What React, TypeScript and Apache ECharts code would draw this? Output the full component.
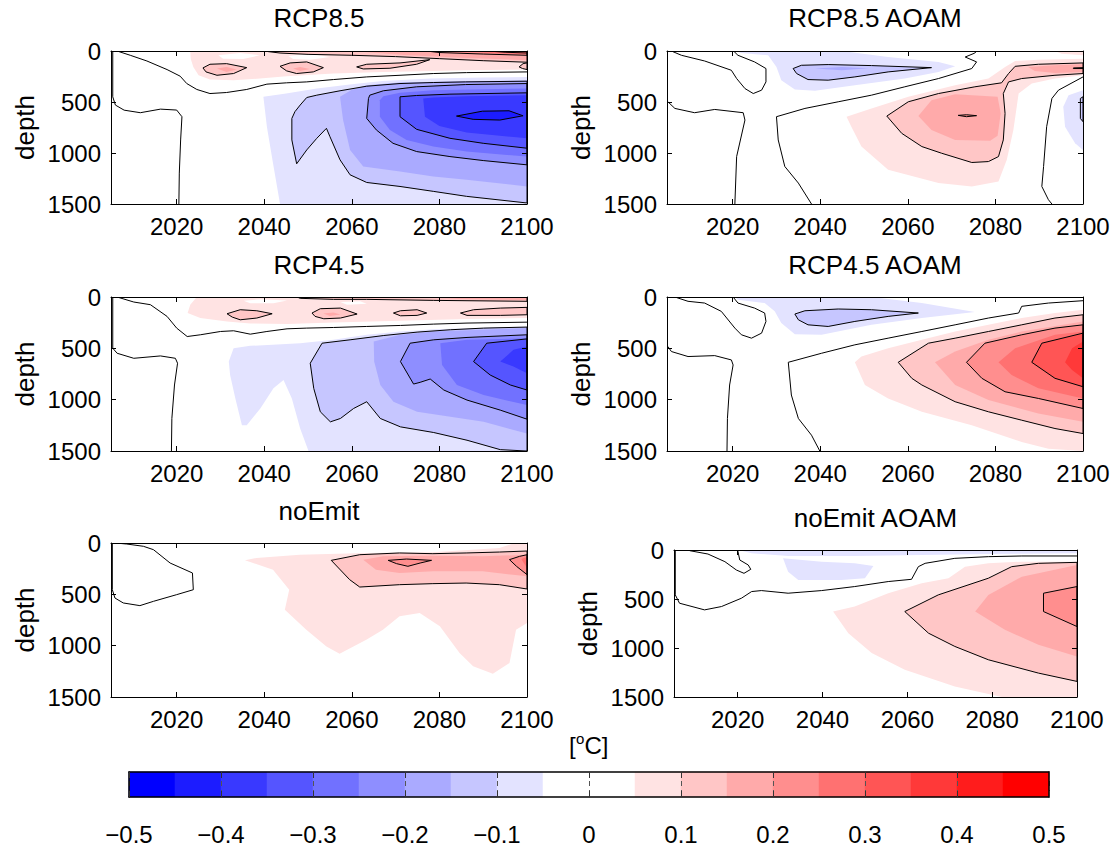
import { useEffect, useRef } from 'react';
import * as echarts from 'echarts';

type Pt = [number, number];
type Region = [number, Pt[]];

const FONT = '"Liberation Sans", Arial, Helvetica, sans-serif';

const yearTicks = [2020, 2040, 2060, 2080, 2100];
const depthTicks = [0, 500, 1000, 1500];
const binEdges = [-0.5, -0.45, -0.4, -0.35, -0.3, -0.25, -0.2, -0.15, -0.1, -0.05, 0, 0.05, 0.1, 0.15, 0.2, 0.25, 0.3, 0.35, 0.4, 0.45, 0.5];
const binColors = ['#0000ff', '#1c1cff', '#3939ff', '#5555ff', '#7171ff', '#8e8eff', '#aaaaff', '#c6c6ff', '#e3e3ff', '#ffffff',
  '#ffffff', '#ffe3e3', '#ffc6c6', '#ffaaaa', '#ff8e8e', '#ff7171', '#ff5555', '#ff3939', '#ff1c1c', '#ff0000'];
const panelTitles = ['RCP8.5', 'RCP8.5 AOAM', 'RCP4.5', 'RCP4.5 AOAM', 'noEmit', 'noEmit AOAM'];

// ---------- RCP8.5 ----------
const rcp85Fills: Region[] = [
  [-0.05, [[2039.8, 449], [2045, 417], [2052, 368], [2060, 326], [2067, 293], [2078, 270], [2090, 260], [2100, 254], [2100, 1500], [2043.6, 1500], [2042, 1100], [2040.6, 742]]],
  [-0.1, [[2046.3, 661], [2047, 595], [2048.2, 530], [2049.7, 456], [2052, 433], [2057.3, 390], [2063.4, 345], [2071, 319], [2078.6, 309], [2086, 303], [2100, 296], [2100, 1490], [2086.2, 1425], [2078.6, 1376], [2071, 1328], [2063.4, 1289], [2059.6, 1214], [2057.3, 1067], [2055, 840], [2054.2, 758], [2052, 856], [2049.7, 970], [2047.4, 1106], [2046.3, 872]]],
  [-0.15, [[2057.3, 449], [2060, 380], [2063.4, 335], [2071, 309], [2086, 296], [2100, 290], [2100, 1328], [2086.2, 1263], [2078.6, 1230], [2071, 1181], [2062.6, 1132], [2059.6, 970], [2058, 677]]],
  [-0.2, [[2063.8, 465], [2064.1, 433], [2067.2, 390], [2074.8, 351], [2086, 329], [2100, 319], [2100, 1116], [2090, 1074], [2082.4, 1035], [2074.8, 986], [2069.4, 905], [2065.6, 774], [2063.4, 661]]],
  [-0.25, [[2066.4, 482], [2067.2, 443], [2071, 410], [2078.6, 384], [2100, 368], [2100, 1035], [2086.2, 986], [2078.6, 937], [2072.5, 872], [2068.7, 774], [2066.4, 644]]],
  [-0.3, [[2071, 449], [2074.8, 436], [2082.4, 423], [2100, 410], [2100, 953], [2090, 905], [2082.4, 856], [2074.8, 768], [2071, 644]]],
  [-0.35, [[2076.3, 465], [2078.6, 456], [2086, 443], [2100, 433], [2100, 856], [2086.2, 800], [2080, 735], [2076.7, 644]]],
  [-0.4, [[2083.9, 638], [2089.8, 590], [2095.9, 586], [2099.1, 635], [2093.8, 677], [2087.7, 670]]],
  [0.05, [[2023.1, 0], [2100, 0], [2100, 182], [2086.2, 189], [2078.6, 195], [2067.2, 205], [2055.8, 221], [2045.1, 247], [2039, 270], [2033, 286], [2027.6, 280], [2025, 238], [2023.8, 156], [2023.2, 75]]],
  [0, [[2029.5, 42], [2034.5, 20], [2039, 42], [2035.2, 78], [2030.6, 75]]],
  [0, [[2045.5, 49], [2050.4, 26], [2055, 59], [2050.4, 85], [2046.6, 78]]],
  [0.1, [[2039.8, 0], [2100, 0], [2100, 110], [2090, 95], [2080, 75], [2070, 55], [2060, 42], [2050, 33], [2043.6, 20]]],
  [0.1, [[2026, 166], [2027.6, 130], [2031.4, 124], [2036, 163], [2033, 221], [2029.2, 238], [2026.7, 205]]],
  [0.1, [[2043.6, 150], [2045.9, 117], [2049.7, 107], [2053.5, 163], [2051.2, 205], [2047.4, 221], [2045.1, 195]]],
  [0.1, [[2061.1, 156], [2063.4, 130], [2071, 117], [2077.8, 85], [2074.8, 130], [2068.7, 169], [2062.6, 176]]],
  [0.1, [[2098.2, 156], [2099.1, 124], [2100, 117], [2100, 182], [2099, 172]]],
  [0.15, [[2029.2, 172], [2031.4, 156], [2033.7, 182], [2031.4, 205]]],
  [0.15, [[2046.6, 172], [2048.2, 156], [2050.4, 176], [2048.2, 195]]],
  [0.15, [[2060, 0], [2100, 0], [2100, 90], [2085, 65], [2072, 40]]],
  [0.2, [[2077, 0], [2100, 0], [2100, 42], [2090, 30], [2080, 15]]],
  [0.25, [[2085, 0], [2100, 0], [2100, 30], [2092, 20]]],
  [0.3, [[2091, 0], [2100, 0], [2100, 20], [2095, 12]]],
];
const rcp85Zero: Pt[][] = [
  [[2006.4, 0], [2009.4, 42], [2013.2, 98], [2017.8, 182], [2020.8, 247], [2022.3, 319], [2024.6, 377], [2027.6, 417], [2031.4, 407], [2036, 377], [2040.6, 325], [2045.1, 312], [2049.7, 303], [2055.8, 280], [2063.4, 254], [2071, 238], [2078.6, 221], [2086.2, 212], [2100, 205]],
  [[2005.4, 0], [2005.4, 449], [2006, 530], [2008, 580], [2011.7, 605], [2016.3, 570], [2020, 579], [2021.2, 644], [2020.9, 872], [2020.6, 1197], [2020.5, 1500]],
];

// ---------- RCP8.5 AOAM ----------
const rcp85aFills: Region[] = [
  [-0.05, [[2020.5, 0], [2044.9, 0], [2055.5, 59], [2067, 107], [2070.8, 150], [2067, 205], [2059.3, 270], [2047.9, 335], [2038.8, 390], [2034.2, 377], [2031.1, 286], [2030, 156], [2028.1, 42], [2022, 20]]],
  [-0.1, [[2033.8, 172], [2035.7, 140], [2041.8, 133], [2051.7, 143], [2065.4, 163], [2055.5, 205], [2047.9, 254], [2041.8, 286], [2037.2, 280], [2034.6, 221]]],
  [-0.15, [[2038.8, 172], [2044.9, 156], [2051, 169], [2044.9, 189]]],
  [-0.05, [[2100, 384], [2096.7, 433], [2095.5, 547], [2095.9, 742], [2098.2, 905], [2100, 970]]],
  [-0.1, [[2100, 449], [2099.4, 465], [2099.4, 661], [2100, 693]]],
  [0.05, [[2046, 644], [2051.7, 563], [2060.1, 449], [2070.8, 335], [2078.4, 270], [2082.2, 156], [2084.5, 98], [2089.8, 85], [2100, 75], [2100, 238], [2093.6, 270], [2088.3, 319], [2085.3, 417], [2084.1, 774], [2082.6, 1067], [2080.7, 1279], [2074.6, 1328], [2067, 1295], [2055.5, 1165], [2049.4, 937], [2047.1, 742]]],
  [0.05, [[2093.6, 0], [2100, 0], [2100, 42], [2095.1, 26]]],
  [0.1, [[2055.2, 638], [2060.1, 498], [2067, 417], [2075.3, 351], [2081.4, 312], [2083, 221], [2084.5, 150], [2089.8, 130], [2100, 117], [2100, 221], [2093.6, 238], [2086, 270], [2083, 303], [2081.8, 417], [2082.2, 612], [2081.8, 872], [2080.7, 1035], [2078.4, 1084], [2074.6, 1093], [2067.7, 1002], [2063.2, 937], [2058.6, 807]]],
  [0.15, [[2062.4, 638], [2065.4, 482], [2070.8, 423], [2080.5, 449], [2081.2, 612], [2080.5, 830], [2078.8, 880], [2070.8, 872], [2065.4, 774]]],
  [0.15, [[2087.5, 156], [2093.6, 140], [2100, 130], [2100, 205], [2093.6, 215], [2089, 195]]],
  [0.2, [[2071.5, 631], [2073.4, 625], [2075.7, 634], [2073.4, 644]]],
  [0.2, [[2097.8, 166], [2100, 163], [2100, 172], [2097.8, 172]]],
];
const rcp85aZero: Pt[][] = [
  [[2006, 0], [2008.3, 42], [2013.6, 98], [2019.7, 189], [2020.9, 270], [2022.8, 368], [2024.7, 417], [2026.6, 384], [2027.6, 303], [2027.6, 172], [2025, 107], [2021.2, 42], [2020.2, 0]],
  [[2005.2, 498], [2006.8, 563], [2011.3, 605], [2015.9, 573], [2022.4, 605], [2022.8, 677], [2020.9, 1035], [2020.5, 1500]],
  [[2038, 1500], [2035, 1295], [2031.9, 1132], [2030.4, 872], [2030, 644], [2036.5, 563], [2044.1, 498], [2051.7, 433], [2059.3, 351], [2067, 270], [2074.6, 172], [2075.7, 107], [2073.1, 59], [2075.3, 20], [2075.7, 0]],
  [[2100, 254], [2094.4, 384], [2092.9, 465], [2091.7, 742], [2091, 1132], [2090.6, 1328], [2092.1, 1458], [2092.9, 1500]],
];

// ---------- RCP4.5 ----------
const rcp45Fills: Region[] = [
  [-0.05, [[2031.9, 629], [2033, 499], [2036.8, 476], [2048.2, 450], [2055.8, 417], [2063.4, 368], [2071.1, 336], [2078.7, 313], [2100, 287], [2100, 1500], [2050.1, 1500], [2048.2, 1281], [2046.3, 988], [2044.4, 809], [2042.1, 890], [2039.1, 1086], [2036, 1249], [2034.9, 1249], [2033.4, 988], [2032.2, 760]]],
  [-0.1, [[2050.5, 645], [2053.2, 450], [2059.6, 417], [2067.3, 375], [2074.9, 342], [2082.5, 319], [2090.1, 303], [2100, 293], [2100, 1500], [2093.9, 1487], [2086.3, 1395], [2078.7, 1320], [2071.1, 1265], [2066.5, 1183], [2063.4, 1020], [2060.4, 1086], [2057.4, 1183], [2055.1, 1216], [2052.8, 1118], [2051.3, 890]]],
  [-0.15, [[2065, 434], [2071.1, 368], [2078.7, 336], [2100, 303], [2100, 1330], [2090.1, 1216], [2082.5, 1167], [2074.9, 1118], [2069.5, 1020], [2066.5, 857], [2065.1, 629]]],
  [-0.2, [[2073.3, 450], [2078.7, 417], [2086.3, 394], [2100, 368], [2100, 1190], [2093.9, 1102], [2086.3, 1004], [2081, 906], [2077.9, 799], [2075.6, 831], [2074.1, 848], [2071.1, 629]]],
  [-0.25, [[2080.2, 450], [2086.3, 417], [2100, 401], [2100, 1053], [2090.1, 955], [2084, 857], [2080.6, 662]]],
  [-0.3, [[2090.8, 450], [2100, 408], [2100, 906], [2096.2, 857], [2091.6, 760], [2087.8, 629]]],
  [-0.35, [[2093.9, 629], [2096.9, 515], [2100, 482], [2100, 743], [2096.9, 678]]],
  [0.05, [[2024.6, 0], [2100, 0], [2100, 205], [2086.3, 215], [2071.1, 231], [2055.8, 248], [2045.2, 264], [2036.8, 258], [2031.5, 238], [2025.4, 205], [2022.5, 156], [2023.1, 75]]],
  [0, [[2035.3, 36], [2039.1, 23], [2045.2, 33], [2042.1, 62], [2036.8, 62]]],
  [0, [[2057.4, 49], [2061.9, 42], [2063.4, 65], [2058.9, 75]]],
  [0.1, [[2047.5, 0], [2100, 0], [2100, 42], [2078.7, 33], [2063.4, 23], [2055.8, 23], [2048.2, 13]]],
  [0.1, [[2031.5, 163], [2034.5, 124], [2038.3, 134], [2041.8, 163], [2038.3, 205], [2034.5, 222], [2032.7, 196]]],
  [0.1, [[2050.9, 156], [2052.8, 114], [2057.4, 108], [2061.2, 166], [2057.4, 205], [2053.6, 212], [2051.6, 189]]],
  [0.1, [[2069.5, 156], [2071.1, 134], [2074.9, 124], [2077.1, 156], [2074.9, 179], [2071.1, 183]]],
  [0.1, [[2084.8, 156], [2087.8, 124], [2093.9, 108], [2100, 101], [2100, 173], [2093.9, 179], [2086.3, 179]]],
  [0.15, [[2053.5, 160], [2055.8, 150], [2057.4, 170], [2055, 185]]],
  [0.15, [[2075, 0], [2100, 0], [2100, 30], [2085, 20]]],
];
const rcp45Zero: Pt[][] = [
  [[2006.4, 0], [2010.2, 49], [2014, 75], [2017.8, 189], [2020, 303], [2022.4, 385], [2025.4, 368], [2030, 336], [2033, 329], [2036.8, 362], [2040.6, 336], [2045.2, 310], [2049.7, 303], [2055.8, 297], [2063.4, 287], [2071.1, 277], [2078.7, 264], [2086.3, 254], [2100, 245]],
  [[2005.4, 0], [2005.4, 499], [2006.4, 548], [2010.2, 597], [2016.3, 574], [2019.7, 597], [2020.2, 645], [2019.5, 857], [2018.9, 1183], [2018.8, 1500]],
];

// ---------- RCP4.5 AOAM ----------
const rcp45aFills: Region[] = [
  [-0.05, [[2020.5, 0], [2051.7, 0], [2063.2, 59], [2075.3, 147], [2063.2, 205], [2051.7, 271], [2040.3, 368], [2034.2, 362], [2031.1, 254], [2029.6, 140], [2027.3, 59], [2021.2, 26]]],
  [-0.1, [[2034.2, 166], [2036.5, 134], [2044.1, 117], [2051.7, 124], [2062.4, 156], [2055.5, 189], [2047.9, 238], [2041.8, 287], [2037.2, 271], [2035, 222]]],
  [0.05, [[2047.9, 636], [2049.4, 580], [2055.5, 499], [2063.2, 417], [2070.8, 336], [2078.4, 271], [2086, 205], [2093.6, 156], [2100, 124], [2100, 1500], [2092.1, 1477], [2086, 1412], [2074.6, 1249], [2063.2, 1118], [2055.5, 988], [2050.2, 857]]],
  [0.1, [[2057.8, 636], [2064.7, 450], [2070.8, 401], [2078.4, 336], [2086, 271], [2093.6, 205], [2100, 173], [2100, 1330], [2093.6, 1281], [2086, 1200], [2078.4, 1118], [2070.8, 1020], [2063.2, 857], [2060.9, 792]]],
  [0.15, [[2066.2, 636], [2070.8, 531], [2078.4, 417], [2086, 336], [2100, 238], [2100, 1216], [2089.8, 1134], [2078.4, 1004], [2070.8, 857]]],
  [0.2, [[2073.4, 636], [2077.6, 450], [2086, 368], [2093.6, 303], [2100, 271], [2100, 1086], [2089.8, 988], [2082.2, 923], [2076.9, 792]]],
  [0.25, [[2080.7, 636], [2084.5, 499], [2093.6, 368], [2100, 336], [2100, 988], [2089.8, 890], [2083.7, 760]]],
  [0.3, [[2088.3, 636], [2090.6, 450], [2100, 352], [2100, 874], [2093.6, 792]]],
  [0.35, [[2095.9, 636], [2097.5, 499], [2100, 434], [2100, 792], [2097.5, 711]]],
];
const rcp45aZero: Pt[][] = [
  [[2006.8, 0], [2009.8, 42], [2013.6, 59], [2017.4, 140], [2020.5, 303], [2022, 368], [2024.3, 401], [2026.6, 352], [2027.6, 238], [2027.3, 156], [2025, 108], [2021.2, 59], [2020.1, 0]],
  [[2005.2, 482], [2006, 531], [2009.8, 580], [2015.9, 571], [2019.7, 613], [2020.1, 662], [2019.3, 857], [2018.8, 1183], [2018.7, 1500]],
  [[2039.9, 1500], [2038, 1346], [2035, 1183], [2033.4, 955], [2032.7, 636], [2040.3, 548], [2047.9, 466], [2055.5, 401], [2063.2, 336], [2070.8, 271], [2078.4, 205], [2085.3, 156], [2086, 91], [2092.1, 59], [2100, 36]],
];

// ---------- noEmit ----------
const noEmitFills: Region[] = [
  [0.05, [[2035.6, 169], [2038.2, 146], [2048.1, 114], [2063.3, 97], [2078.5, 91], [2093.7, 49], [2096.5, 10], [2100, 0], [2100, 779], [2097.5, 844], [2096, 1169], [2092.2, 1273], [2087.7, 1201], [2084.6, 1072], [2080.1, 812], [2075.5, 682], [2070.9, 714], [2067.1, 844], [2063.3, 942], [2057.2, 1078], [2054.2, 1007], [2049.6, 844], [2044.7, 649], [2045.7, 455], [2042, 260]]],
  [0.1, [[2055.3, 169], [2061.8, 114], [2070.9, 97], [2078.5, 104], [2086.1, 97], [2093.7, 88], [2100, 78], [2100, 448], [2093.7, 406], [2086.1, 390], [2078.5, 396], [2070.9, 406], [2061.8, 429], [2059.5, 357]]],
  [0.15, [[2062.6, 162], [2067.2, 130], [2078.5, 123], [2089.9, 130], [2100, 114], [2100, 325], [2089.9, 276], [2078.5, 276], [2070.9, 292], [2065.5, 260]]],
  [0.2, [[2068.3, 169], [2072.5, 156], [2078.2, 169], [2075.6, 195], [2072.8, 227], [2070.2, 201]]],
  [0.2, [[2096, 162], [2098.3, 130], [2100, 114], [2100, 308], [2097.6, 227]]],
  [0.25, [[2098.7, 156], [2100, 136], [2100, 244]]],
];
const noEmitZero: Pt[][] = [
  [[2005.3, 0], [2005.3, 455], [2005.9, 536], [2007.8, 584], [2011.6, 610], [2014.7, 568], [2020, 503], [2023.8, 455], [2023.6, 292], [2018.5, 195], [2014.7, 65], [2012.4, 32], [2008.6, 10], [2006, 0]],
];

// ---------- noEmit AOAM ----------
const noEmitaFills: Region[] = [
  [-0.05, [[2020.1, 0], [2100, 0], [2100, 34], [2079.1, 41], [2063.4, 51], [2047.6, 61], [2031.9, 61], [2023.3, 34]]],
  [-0.05, [[2030.7, 85], [2039.8, 119], [2047.6, 136], [2052, 163], [2050, 288], [2044.5, 305], [2034.3, 305], [2031.9, 221]]],
  [0.05, [[2042.5, 628], [2047.6, 577], [2055.5, 441], [2063.4, 339], [2069.7, 288], [2073.6, 170], [2079.1, 136], [2087, 119], [2100, 119], [2100, 1500], [2082.3, 1500], [2071.2, 1392], [2059.4, 1222], [2051.6, 1052], [2046.1, 849]]],
  [0.1, [[2059.4, 628], [2067.3, 458], [2079.1, 288], [2084.6, 170], [2090.9, 136], [2100, 126], [2100, 1341], [2090.9, 1256], [2079.1, 1120], [2071.2, 984], [2065, 849]]],
  [0.15, [[2076, 628], [2079.1, 458], [2087, 272], [2100, 153], [2100, 1086], [2090.9, 967], [2083, 815]]],
  [0.2, [[2092.1, 441], [2100, 373], [2100, 781], [2092.1, 628]]],
];
const noEmitaZero: Pt[][] = [
  [[2008.7, 7], [2013, 41], [2017, 119], [2019.7, 204], [2021.5, 238], [2023.1, 197], [2022.5, 153], [2020.5, 102], [2020, 0]],
  [[2005.3, 0], [2005.3, 458], [2006.3, 543], [2012.2, 611], [2016.2, 577], [2020.9, 492], [2023.3, 424], [2025.6, 414], [2031.9, 441], [2039.8, 414], [2047.6, 373], [2055.5, 322], [2061, 299], [2062.6, 170], [2064.2, 136], [2071.2, 85], [2079.1, 68], [2087, 61], [2100, 61]],
];

const panelFills = [rcp85Fills, rcp85aFills, rcp45Fills, rcp45aFills, noEmitFills, noEmitaFills];
const panelZeros = [rcp85Zero, rcp85aZero, rcp45Zero, rcp45aZero, noEmitZero, noEmitaZero];

// layout (pixels)
const layout = [
  { left: 111, top: 51, width: 416, height: 153, titleY: 18 },
  { left: 667, top: 51, width: 416, height: 153, titleY: 18 },
  { left: 111, top: 297, width: 416, height: 154, titleY: 265 },
  { left: 667, top: 297, width: 416, height: 154, titleY: 265 },
  { left: 111, top: 543, width: 416, height: 154, titleY: 511 },
  { left: 674, top: 550, width: 403, height: 147, titleY: 518 },
];
const cbLayout = { left: 129, top: 772, width: 920, height: 25, labelGap: 25, unitY: 745 };

function levelColor(t: number): string {
  if (t === 0) return '#ffffff';
  const i = Math.round((t + 0.5) / 0.05) - (t < 0 ? 1 : 0);
  return binColors[i];
}
function isContour(t: number): boolean {
  const k = t * 10;
  return t !== 0 && Math.abs(k - Math.round(k)) < 1e-6;
}
function fmtNum(v: number): string {
  return String(v);
}
function fmtCb(v: number): string {
  const r = Math.round(v * 10) / 10;
  if (Math.abs(r) < 1e-9) return '0';
  return (r < 0 ? '\u2212' : '') + Math.abs(r).toFixed(1);
}

function buildOption(): any {
  const grid: any[] = [];
  const xAxis: any[] = [];
  const yAxis: any[] = [];
  const series: any[] = [];
  const graphic: any[] = [];
  const black = '#000';

  layout.forEach((g, i) => {
    grid.push({ left: g.left, top: g.top, width: g.width, height: g.height });
    const tick = { show: true, inside: true, length: 5, lineStyle: { color: black, width: 1 } };
    const line = { show: true, onZero: false, lineStyle: { color: black, width: 1 } };
    xAxis.push({
      gridIndex: i, type: 'value', min: 2005, max: 2100, position: 'bottom', z: 10,
      axisLine: line, splitLine: { show: false },
      axisTick: { ...tick, customValues: yearTicks },
      axisLabel: { customValues: yearTicks, formatter: fmtNum, fontSize: 24, color: black, fontFamily: FONT, margin: 10 },
    });
    xAxis.push({
      gridIndex: i, type: 'value', min: 2005, max: 2100, position: 'top', z: 10,
      axisLine: line, splitLine: { show: false },
      axisTick: { ...tick, customValues: yearTicks },
      axisLabel: { show: false },
    });
    yAxis.push({
      gridIndex: i, type: 'value', min: 0, max: 1500, inverse: true, position: 'left', z: 10,
      axisLine: line, splitLine: { show: false },
      axisTick: { ...tick, customValues: depthTicks },
      axisLabel: { customValues: depthTicks, formatter: fmtNum, fontSize: 24, color: black, fontFamily: FONT, margin: 10 },
    });
    yAxis.push({
      gridIndex: i, type: 'value', min: 0, max: 1500, inverse: true, position: 'right', z: 10,
      axisLine: line, splitLine: { show: false },
      axisTick: { ...tick, customValues: depthTicks },
      axisLabel: { show: false },
    });

    const fills = panelFills[i];
    series.push({
      type: 'custom', xAxisIndex: 2 * i, yAxisIndex: 2 * i, clip: true, silent: true, z: 2,
      data: fills.map((r) => r[1][0]),
      renderItem: (params: any, api: any) => {
        const [lvl, pts] = fills[params.dataIndex];
        return {
          type: 'polygon',
          shape: { points: pts.map((p) => api.coord(p)) },
          style: { fill: levelColor(lvl), stroke: 'none' },
        };
      },
    });
    const outlines: { closed: boolean; pts: Pt[] }[] = [
      ...fills.filter((r) => isContour(r[0])).map((r) => ({ closed: true, pts: r[1] })),
      ...panelZeros[i].map((z) => ({ closed: false, pts: z })),
    ];
    series.push({
      type: 'custom', xAxisIndex: 2 * i, yAxisIndex: 2 * i, clip: true, silent: true, z: 3,
      data: outlines.map((o) => o.pts[0]),
      renderItem: (params: any, api: any) => {
        const o = outlines[params.dataIndex];
        return {
          type: o.closed ? 'polygon' : 'polyline',
          shape: { points: o.pts.map((p) => api.coord(p)) },
          style: { fill: 'none', stroke: black, lineWidth: 1 },
        };
      },
    });

    graphic.push({
      type: 'text', x: g.left + g.width / 2, y: g.titleY, z: 20,
      style: { text: panelTitles[i], fontSize: 26, fontFamily: FONT, fill: black, textAlign: 'center', textVerticalAlign: 'middle', align: 'center', verticalAlign: 'middle' },
    });
    graphic.push({
      type: 'text', x: g.left - 86, y: g.top + g.height / 2, rotation: Math.PI / 2, z: 20,
      style: { text: 'depth', fontSize: 26, fontFamily: FONT, fill: black, textAlign: 'center', textVerticalAlign: 'middle', align: 'center', verticalAlign: 'middle' },
    });
  });

  // colorbar
  const ci = layout.length;
  grid.push({ left: cbLayout.left, top: cbLayout.top, width: cbLayout.width, height: cbLayout.height });
  xAxis.push({
    gridIndex: ci, type: 'value', min: -0.5, max: 0.5, interval: 0.1, position: 'bottom', z: 10,
    axisLine: { show: true, onZero: false, lineStyle: { color: black, width: 1.5 } },
    axisTick: { show: true, inside: true, length: 6, lineStyle: { color: '#333' } },
    splitLine: { show: true, lineStyle: { color: '#555', type: [5, 4], width: 1 } },
    axisLabel: { formatter: fmtCb, fontSize: 24, color: black, fontFamily: FONT, margin: cbLayout.labelGap, showMinLabel: true, showMaxLabel: true },
  });
  xAxis.push({
    gridIndex: ci, type: 'value', min: -0.5, max: 0.5, interval: 0.1, position: 'top', z: 10,
    axisLine: { show: true, onZero: false, lineStyle: { color: black, width: 1.5 } },
    axisTick: { show: true, inside: true, length: 6, lineStyle: { color: '#333' } },
    splitLine: { show: false }, axisLabel: { show: false },
  });
  yAxis.push({
    gridIndex: ci, type: 'value', min: 0, max: 1, position: 'left', z: 10,
    axisLine: { show: true, onZero: false, lineStyle: { color: black, width: 1.5 } },
    axisTick: { show: false }, axisLabel: { show: false }, splitLine: { show: false },
  });
  yAxis.push({
    gridIndex: ci, type: 'value', min: 0, max: 1, position: 'right', z: 10,
    axisLine: { show: true, onZero: false, lineStyle: { color: black, width: 1.5 } },
    axisTick: { show: false }, axisLabel: { show: false }, splitLine: { show: false },
  });
  series.push({
    type: 'custom', xAxisIndex: 2 * ci, yAxisIndex: 2 * ci, silent: true, z: 2,
    data: binColors.map((_, k) => [binEdges[k], 0]),
    renderItem: (params: any, api: any) => {
      const k = params.dataIndex;
      const p1 = api.coord([binEdges[k], 1]);
      const p2 = api.coord([binEdges[k + 1], 0]);
      return {
        type: 'rect',
        shape: { x: p1[0], y: p1[1], width: p2[0] - p1[0], height: p2[1] - p1[1] },
        style: { fill: binColors[k], stroke: binColors[k], lineWidth: 0.5 },
      };
    },
  });

  const cx = cbLayout.left + cbLayout.width / 2;
  const ly = cbLayout.unitY;
  graphic.push({ type: 'text', x: cx - 20, y: ly, z: 20, style: { text: '[', fontSize: 24, fontFamily: FONT, fill: black, textAlign: 'left', textVerticalAlign: 'middle', align: 'left', verticalAlign: 'middle' } });
  graphic.push({ type: 'text', x: cx - 13, y: ly - 7, z: 20, style: { text: 'o', fontSize: 15, fontFamily: FONT, fill: black, textAlign: 'left', textVerticalAlign: 'middle', align: 'left', verticalAlign: 'middle' } });
  graphic.push({ type: 'text', x: cx - 4.5, y: ly, z: 20, style: { text: 'C]', fontSize: 24, fontFamily: FONT, fill: black, textAlign: 'left', textVerticalAlign: 'middle', align: 'left', verticalAlign: 'middle' } });

  return {
    animation: false,
    backgroundColor: '#ffffff',
    textStyle: { fontFamily: FONT },
    grid, xAxis, yAxis, series, graphic,
  };
}

export default function App() {
  const ref = useRef<HTMLDivElement>(null);
  useEffect(() => {
    if (!ref.current) return;
    const chart = echarts.init(ref.current, undefined, { renderer: 'svg' });
    chart.setOption(buildOption());
    return () => chart.dispose();
  }, []);
  return <div ref={ref} style={{ position: 'absolute', left: 0, top: 0, width: 1120, height: 856 }} />;
}
